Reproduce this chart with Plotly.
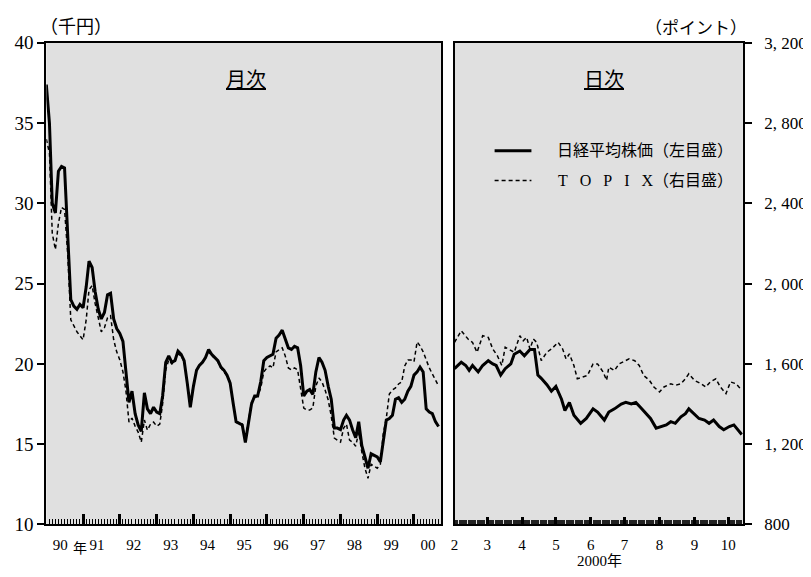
import pandas as pd
import plotly.graph_objects as go

# ---------------- data ----------------
# Monthly (Jan 1990 - Sep 2000)
monthly_dates = pd.date_range("1990-01-01", periods=129, freq="MS").strftime("%Y-%m-%d").tolist()
nikkei_monthly = [
    37.4, 35.0, 30.0, 29.4, 32.0, 32.3, 32.2, 28.0, 24.0, 23.6, 23.4, 23.7,   # 1990
    23.5, 24.8, 26.4, 26.0, 24.5, 23.4, 22.8, 23.2, 24.3, 24.4, 22.8, 22.2,   # 1991
    21.9, 21.4, 19.5, 17.6, 18.3, 16.9, 16.2, 15.8, 18.2, 17.2, 16.9, 17.3,   # 1992
    17.0, 16.9, 18.0, 20.1, 20.5, 20.1, 20.2, 20.8, 20.6, 20.2, 18.8, 17.3,   # 1993
    18.6, 19.6, 19.9, 20.1, 20.4, 20.9, 20.6, 20.4, 20.2, 19.8, 19.6, 19.3,   # 1994
    18.8, 17.5, 16.4, 16.3, 16.2, 15.1, 16.4, 17.5, 18.0, 18.0, 18.9, 20.2,   # 1995
    20.4, 20.5, 20.6, 21.6, 21.8, 22.1, 21.5, 21.0, 20.9, 21.1, 21.0, 19.9,   # 1996
    18.0, 18.3, 18.4, 18.1, 19.5, 20.4, 20.1, 19.6, 18.6, 17.8, 16.0, 16.0,   # 1997
    15.9, 16.5, 16.8, 16.5, 15.9, 15.4, 16.4, 14.9, 14.2, 13.5, 14.4, 14.3,   # 1998
    14.2, 13.9, 15.2, 16.5, 16.6, 16.8, 17.8, 17.9, 17.6, 17.8, 18.3, 18.6,   # 1999
    19.3, 19.5, 19.8, 19.5, 17.2, 17.0, 16.9, 16.4, 16.1,                     # 2000
]
topix_monthly = [
    2720, 2650, 2250, 2170, 2300, 2380, 2370, 2150, 1820, 1790, 1760, 1740,
    1720, 1820, 1970, 1990, 1900, 1830, 1760, 1780, 1830, 1840, 1720, 1660,
    1620, 1560, 1470, 1310, 1330, 1290, 1260, 1210, 1320, 1270, 1300, 1310,
    1290, 1300, 1400, 1570, 1620, 1600, 1610, 1650, 1640, 1610, 1500, 1410,
    1490, 1570, 1590, 1610, 1630, 1660, 1640, 1630, 1610, 1580, 1560, 1540,
    1510, 1400, 1310, 1300, 1300, 1220, 1320, 1410, 1430, 1440, 1480, 1560,
    1580, 1590, 1580, 1660, 1670, 1680, 1640, 1580, 1570, 1580, 1570, 1470,
    1380, 1370, 1370, 1380, 1490, 1530, 1510, 1470, 1420, 1340, 1230, 1220,
    1210, 1280, 1300, 1220, 1210, 1190, 1260, 1160, 1080, 1030, 1100, 1090,
    1080, 1100, 1250, 1330, 1450, 1470, 1480, 1500, 1510, 1590, 1620, 1620,
    1610, 1710, 1690, 1660, 1620, 1580, 1550, 1520, 1490,
]

# Daily (Feb - Oct 2000)
nikkei_daily_dates = [
    "2000-02-01", "2000-02-04", "2000-02-07", "2000-02-11", "2000-02-14", "2000-02-17",
    "2000-02-22", "2000-02-26", "2000-03-02", "2000-03-06", "2000-03-09", "2000-03-13",
    "2000-03-17", "2000-03-22", "2000-03-25", "2000-03-30", "2000-04-03", "2000-04-08",
    "2000-04-12", "2000-04-15", "2000-04-18", "2000-04-23", "2000-04-27", "2000-05-01",
    "2000-05-06", "2000-05-09", "2000-05-13", "2000-05-17", "2000-05-23", "2000-05-28",
    "2000-06-03", "2000-06-07", "2000-06-13", "2000-06-17", "2000-06-22", "2000-06-28",
    "2000-07-02", "2000-07-07", "2000-07-11", "2000-07-15", "2000-07-20", "2000-07-24",
    "2000-07-29", "2000-08-02", "2000-08-07", "2000-08-11", "2000-08-15", "2000-08-20",
    "2000-08-24", "2000-08-27", "2000-09-01", "2000-09-05", "2000-09-10", "2000-09-14",
    "2000-09-18", "2000-09-23", "2000-09-27", "2000-10-02", "2000-10-06", "2000-10-11",
    "2000-10-13",
]
nikkei_daily = [
    19.7, 19.9, 20.1, 19.9, 19.6, 19.9,
    19.5, 19.9, 20.2, 20.0, 19.9, 19.3,
    19.7, 20.0, 20.6, 20.8, 20.5, 20.9,
    20.9, 19.3, 19.1, 18.7, 18.3, 18.6,
    17.8, 17.1, 17.6, 16.8, 16.3, 16.6,
    17.2, 17.0, 16.5, 17.0, 17.2, 17.5,
    17.6, 17.5, 17.6, 17.3, 16.9, 16.6,
    16.0, 16.1, 16.2, 16.4, 16.3, 16.7,
    16.9, 17.2, 16.9, 16.6, 16.5, 16.3,
    16.5, 16.1, 15.9, 16.1, 16.2, 15.8,
    15.6,
]
topix_daily_dates = [
    "2000-02-01", "2000-02-04", "2000-02-07", "2000-02-13", "2000-02-17", "2000-02-21",
    "2000-02-26", "2000-03-02", "2000-03-06", "2000-03-10", "2000-03-14", "2000-03-17",
    "2000-03-22", "2000-03-25", "2000-03-30", "2000-04-02", "2000-04-05", "2000-04-08",
    "2000-04-11", "2000-04-14", "2000-04-18", "2000-04-23", "2000-04-27", "2000-05-03",
    "2000-05-07", "2000-05-10", "2000-05-13", "2000-05-17", "2000-05-20", "2000-05-25",
    "2000-05-29", "2000-06-03", "2000-06-07", "2000-06-12", "2000-06-15", "2000-06-17",
    "2000-06-22", "2000-06-26", "2000-07-01", "2000-07-05", "2000-07-10", "2000-07-14",
    "2000-07-18", "2000-07-23", "2000-07-27", "2000-08-01", "2000-08-05", "2000-08-11",
    "2000-08-15", "2000-08-20", "2000-08-24", "2000-08-27", "2000-09-01", "2000-09-07",
    "2000-09-11", "2000-09-15", "2000-09-20", "2000-09-24", "2000-09-29", "2000-10-03",
    "2000-10-08", "2000-10-13",
]
topix_daily = [
    1707, 1740, 1765, 1724, 1707, 1658,
    1740, 1732, 1674, 1641, 1592, 1683,
    1666, 1658, 1740, 1715, 1732, 1674,
    1724, 1707, 1616, 1658, 1674, 1707,
    1674, 1625, 1650, 1592, 1526, 1534,
    1542, 1600, 1600, 1559, 1518, 1584,
    1567, 1600, 1616, 1625, 1616, 1592,
    1542, 1518, 1485, 1460, 1485, 1501,
    1493, 1501, 1526, 1551, 1518, 1501,
    1485, 1510, 1526, 1485, 1452, 1510,
    1501, 1468,
]

year_ticks = [f"{y}-01-01" for y in range(1990, 2001)]
year_labels = ["90", "91", "92", "93", "94", "95", "96", "97", "98", "99", "00"]
month_ticks = [f"2000-{m:02d}-01" for m in range(2, 11)]
month_labels = [str(m) for m in range(2, 11)]
left_ticks = [10, 15, 20, 25, 30, 35, 40]
right_ticks = [800, 1200, 1600, 2000, 2400, 2800, 3200]
right_labels = ["800", "1, 200", "1, 600", "2, 000", "2, 400", "2, 800", "3, 200"]

# ---------------- layout helpers ----------------
W, H = 811, 577
OX, OY, PH = 8, 16, 561   # observed page offset / effective paper height


def fx(px):
    return (px - OX) / W


def fy(py):
    return 1 - (py - OY) / PH


FONT = "Liberation Serif, 'Noto Sans CJK JP', serif"
BG = "#e0e0e0"

fig = go.Figure()
fig.add_trace(go.Scatter(x=monthly_dates, y=nikkei_monthly, xaxis="x", yaxis="y",
                         mode="lines", line=dict(color="black", width=3),
                         showlegend=False, name="日経平均株価（左目盛）"))
fig.add_trace(go.Scatter(x=monthly_dates, y=topix_monthly, xaxis="x", yaxis="y2",
                         mode="lines", line=dict(color="black", width=1.5, dash="4px,3px"),
                         showlegend=False, name="TOPIX（右目盛）"))
fig.add_trace(go.Scatter(x=nikkei_daily_dates, y=nikkei_daily, xaxis="x2", yaxis="y",
                         mode="lines", line=dict(color="black", width=3),
                         showlegend=False, name="日経平均株価（左目盛）"))
fig.add_trace(go.Scatter(x=topix_daily_dates, y=topix_daily, xaxis="x2", yaxis="y2",
                         mode="lines", line=dict(color="black", width=1.5, dash="4px,3px"),
                         showlegend=False, name="TOPIX（右目盛）"))

ydom = [fy(527), fy(41)]
axis_common = dict(showgrid=False, zeroline=False, showline=True, linewidth=2,
                   linecolor="black", mirror=True, tickcolor="black")

fig.update_layout(
    width=W, height=H,
    margin=dict(l=0, r=0, t=0, b=0),
    paper_bgcolor="white", plot_bgcolor=BG,
    font=dict(family=FONT, color="black"),
    showlegend=False,
    xaxis=dict(
        domain=[fx(42.5), fx(439)], anchor="y", type="date",
        range=["1990-01-01", "2000-09-24"],
        tickvals=year_ticks, ticktext=year_labels, ticklabelshift=14, ticklabelstandoff=6,
        ticks="inside", ticklen=10, tickwidth=3,
        tickfont=dict(size=15, family=FONT),
        minor=dict(ticks="inside", dtick="M1", tick0="1990-01-01", ticklen=5,
                   tickwidth=1, tickcolor="black", showgrid=False),
        **axis_common,
    ),
    xaxis2=dict(
        domain=[fx(452.7), fx(742.5)], anchor="y2", type="date",
        range=["2000-02-01", "2000-10-14"],
        tickvals=month_ticks, ticktext=month_labels, ticklabelstandoff=6,
        ticks="inside", ticklen=7, tickwidth=2.5,
        tickfont=dict(size=15, family=FONT),
        minor=dict(ticks="inside", dtick=86400000, tick0="2000-02-01", ticklen=4,
                   tickwidth=0.5, tickcolor="#222222", showgrid=False),
        **axis_common,
    ),
    yaxis=dict(
        domain=ydom, anchor="x", range=[10, 40],
        tickvals=left_ticks, ticks="outside", ticklen=7, tickwidth=2,
        tickfont=dict(size=19, family=FONT),
        **axis_common,
    ),
    yaxis2=dict(
        domain=ydom, anchor="x2", overlaying="y", side="right", range=[800, 3200],
        tickvals=right_ticks, ticktext=right_labels,
        ticks="outside", ticklen=7, tickwidth=2, ticklabelstandoff=9,
        tickfont=dict(size=17, family=FONT),
        **axis_common,
    ),
)

# legend (drawn as keys + labels inside the daily panel)
fig.add_shape(type="line", xref="paper", yref="paper",
              x0=fx(493), x1=fx(530), y0=fy(150), y1=fy(150),
              line=dict(color="black", width=3))
fig.add_shape(type="line", xref="paper", yref="paper",
              x0=fx(493), x1=fx(530), y0=fy(180), y1=fy(180),
              line=dict(color="black", width=1.5, dash="4px,3px"))


def note(text, x, y, size, xanchor="center"):
    fig.add_annotation(text=text, x=fx(x), y=fy(y), xref="paper", yref="paper",
                       xanchor=xanchor, yanchor="middle", showarrow=False,
                       font=dict(size=size, family=FONT, color="black"))


NB = "\u00a0" * 3
note("日経平均株価（左目盛）", 554, 150, 16, "left")
note(NB.join("TOPIX") + "（右目盛）", 555, 180, 16, "left")
note("<u>月次</u>", 243, 79, 20)
note("<u>日次</u>", 603, 79, 20)
note("（千円）", 72, 25, 18)
note("（ポイント）", 695, 27, 17)
note("年", 76, 551, 14)
note("2000年", 598, 564, 15)

fig.write_html("out.html")
